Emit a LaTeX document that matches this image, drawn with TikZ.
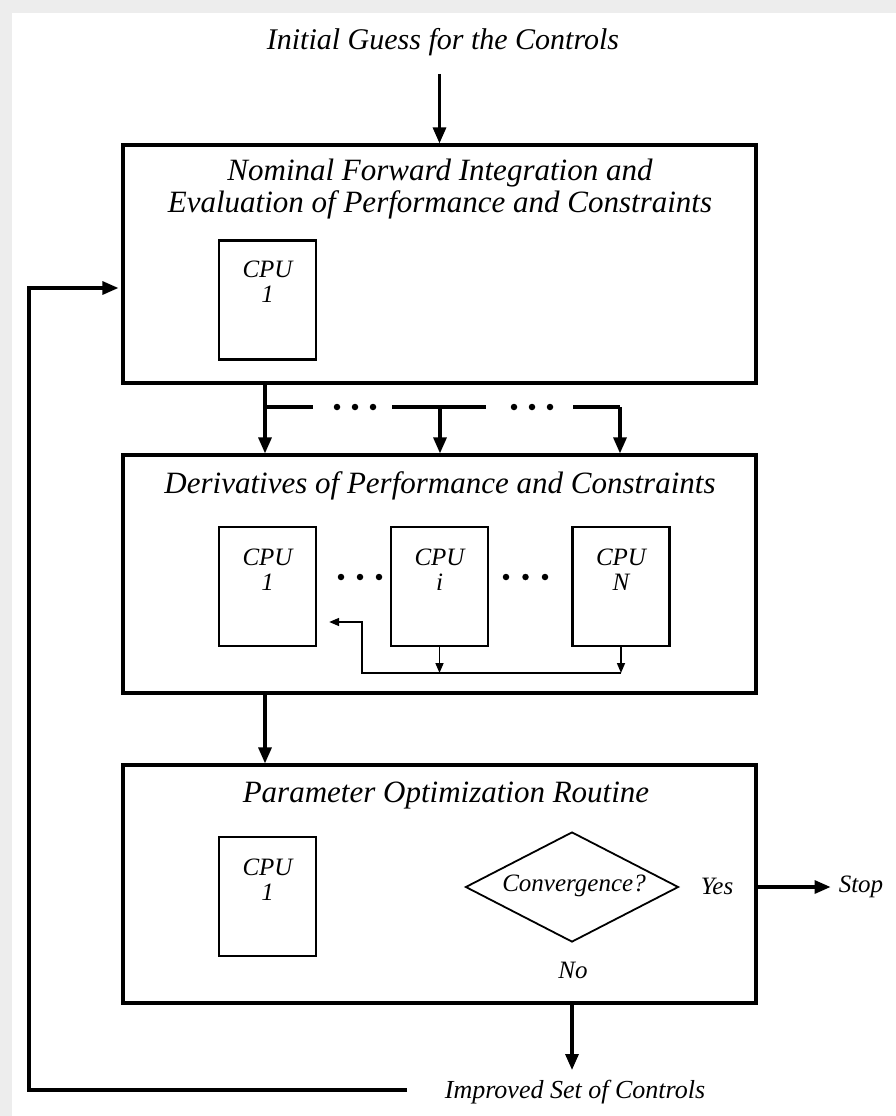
\documentclass[tikz,border=0pt]{standalone}
\usepackage{fontspec}
\setmainfont{Liberation Serif}
\usetikzlibrary{shapes.geometric,arrows.meta}
\tikzset{
  bigbox/.style={draw, line width=3.2pt, minimum width=633pt, minimum height=238pt, inner sep=0pt},
  cpubox/.style={draw, line width=2.3pt, minimum width=97pt, minimum height=119pt, inner sep=0pt},
  cputxt/.style={align=center, font=\fontsize{25}{25}\selectfont\itshape, inner sep=0pt},
  ttl/.style={align=center, font=\fontsize{31}{32}\selectfont\itshape, inner sep=0pt},
  lbl/.style={font=\fontsize{25}{26}\selectfont\itshape, inner sep=0pt},
  dotnode/.style={circle, fill=black, minimum size=6.5pt, inner sep=0pt},
  conn/.style={line width=3.2pt},
  arr/.style={line width=3.2pt, -{Triangle[length=16pt,width=13pt]}},
  sarr/.style={line width=1.6pt, -{Triangle[length=10pt,width=8pt]}},
  decision/.style={draw, shape=diamond, aspect=1.94, line width=1.8pt, minimum width=213pt, minimum height=110pt, inner sep=0pt}
}
\begin{document}
\begin{tikzpicture}[x=1pt,y=-1pt]
\useasboundingbox (0,0) rectangle (896,1116);
\fill[black!7] (0,0) rectangle (896,1116);
\fill[white] (12,13) rectangle (896,1116);

% title
\node[ttl, font=\fontsize{30}{31}\selectfont\itshape] (title) at (443,42) {Initial Guess for the Controls};

% big boxes
\node[bigbox] (b1) at (439.5,264) {};
\node[bigbox] (b2) at (439.5,574) {};
\node[bigbox] (b3) at (439.5,884) {};

\node[ttl] (t1) at (440,189) {Nominal Forward Integration and\\Evaluation of Performance and Constraints};
\node[ttl] (t2) at (440,486) {Derivatives of Performance and Constraints};
\node[ttl] (t3) at (446,796) {Parameter Optimization Routine};

% CPU boxes
\node[cpubox] (c1) at (267.5,300) {};
\node[cputxt] (c1t) at (267.5,282) {CPU\\1};
\node[cpubox] (d1) at (267.5,586.5) {};
\node[cputxt] (d1t) at (267.5,570) {CPU\\1};
\node[cpubox] (di) at (439.5,586.5) {};
\node[cputxt] (dit) at (439.5,570) {CPU\\i};
\node[cpubox] (dN) at (621,586.5) {};
\node[cputxt] (dNt) at (621,570) {CPU\\N};
\node[cpubox] (p1) at (267.5,896.5) {};
\node[cputxt] (p1t) at (267.5,880) {CPU\\1};

% dots
\foreach \n/\x/\y in {a/341/577, b/360/577, c/379/577, d/506/577, e/525.5/577, f/545/577,
                      g/337/407, h/355/407, i/373/407, j/514/407, k/532/407, l/550/407}
  \node[dotnode] (dot\n) at (\x,\y) {};

% decision
\node[decision] (dec) at (572,887) {};
\node[lbl] (dect) at (574,886) {Convergence?};
\node[lbl] (yes) at (717,886) {Yes};
\node[lbl] (no) at (573,970) {No};
\node[lbl] (stop) at (861,887) {Stop};
\node[lbl, font=\fontsize{26}{27}\selectfont\itshape] (imp) at (575,1092) {Improved Set of Controls};

% input arrow
\draw[arr] (b1.north |- 0,74) -- (b1.north);

% fan-out from box 1 to box 2
\draw[arr] (b1.south -| 265,0) -- (b2.north -| 265,0);
\draw[conn] (265,407) -- (313,407);
\draw[conn] (392,407) -- (486,407);
\draw[arr] (440,407) -- (b2.north -| 440,0);
\draw[conn] (573,407) -- (620,407);
\draw[arr] (620,407) -- (b2.north -| 620,0);

% box 2 to box 3
\draw[arr] (b2.south -| 265,0) -- (b3.north -| 265,0);

% inner collection arrows
\coordinate (cy) at (362,673);
\draw[sarr] (di.south) -- (di.south |- cy);
\draw[sarr] (dN.south) -- (dN.south |- cy);
\draw[sarr] (dN.south |- cy) -- (cy) -- (362,622) -- ([xshift=12pt]d1.east |- 0,622);

% yes branch
\draw[arr] (b3.east |- dec) -- ([xshift=-8pt]stop.west);

% output
\draw[arr] (b3.south -| dec) -- (dec |- 0,1070);

% feedback loop
\coordinate (fbL) at (29,1090);
\coordinate (fbT) at (29,288);
\draw[arr] (407,1090) -- (fbL) -- (fbT) -- ([xshift=-3pt]b1.west |- fbT);
\end{tikzpicture}
\end{document}
